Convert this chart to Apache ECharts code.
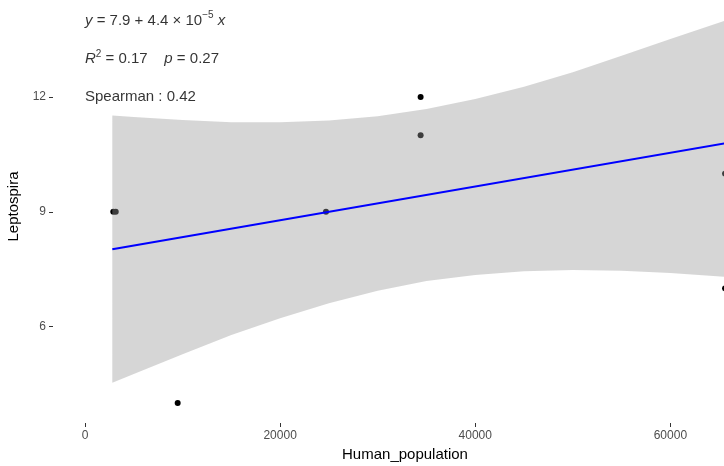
<!DOCTYPE html>
<html>
<head>
<meta charset="utf-8">
<script src="https://cdn.jsdelivr.net/npm/echarts@6/dist/echarts.min.js"></script>
<style>
  html, body { margin: 0; padding: 0; background: #fff; }
  #main { width: 724px; height: 466px; }
</style>
</head>
<body>
<div id="main"></div>
<script>
// axis ticks
var xTicks = [0, 20000, 40000, 60000];
var yTicks = [6, 9, 12];

// observations
var pointX = [2900, 3150, 9500, 24700, 34400, 34400, 65600, 65600];
var pointY = [9, 9, 4, 9, 12, 11, 10, 7];

// fitted line (y = 7.9 + 4.4e-5 x)
var fitX = [2800, 65600];
var fitY = [8.02, 10.79];

// confidence band
var bandX     = [2800, 5000, 10000, 15000, 20000, 25000, 30000, 35000, 40000, 45000, 50000, 55000, 60000, 65600];
var bandUpper = [11.52, 11.48, 11.40, 11.34, 11.34, 11.39, 11.50, 11.69, 11.95, 12.27, 12.65, 13.08, 13.52, 14.00];
var bandLower = [4.53, 4.76, 5.28, 5.78, 6.22, 6.61, 6.94, 7.19, 7.35, 7.45, 7.48, 7.46, 7.40, 7.30];

// annotations, placed at x = 0
var noteY = [14, 13, 12];
var noteText = [
  '{i|y} = 7.9 + 4.4 × 10{sup|−5} {i|x}',
  '{i|R}{sup|2} = 0.17    {i|p} = 0.27',
  'Spearman : 0.42'
];

var font = 'Liberation Sans, Arial, sans-serif';
var myChart = echarts.init(document.getElementById('main'));

function pairs(xs, ys) {
  var out = [];
  for (var i = 0; i < xs.length; i++) out.push([xs[i], ys[i]]);
  return out;
}

// ribbon drawn as one polygon: upper edge left->right, lower edge right->left
function renderBand(params, api) {
  var pts = [];
  for (var i = 0; i < bandX.length; i++) pts.push(api.coord([bandX[i], bandUpper[i]]));
  for (var j = bandX.length - 1; j >= 0; j--) pts.push(api.coord([bandX[j], bandLower[j]]));
  return {
    type: 'polygon',
    shape: { points: pts },
    style: { fill: 'rgba(153,153,153,0.4)', stroke: null }
  };
}

var option = {
  animation: false,
  backgroundColor: '#ffffff',
  grid: {
    left: 53,
    right: -33,
    top: -10,
    bottom: 43,
    outerBoundsMode: 'none'
  },
  xAxis: {
    type: 'value',
    min: -3280,
    max: 68880,
    name: 'Human_population',
    nameLocation: 'middle',
    nameGap: 22,
    nameTextStyle: { color: '#000', fontSize: 15, fontFamily: font },
    axisLine: { show: false, onZero: false },
    splitLine: { show: false },
    axisTick: { show: true, length: 4, lineStyle: { color: '#333', width: 1 }, customValues: xTicks },
    axisLabel: {
      color: '#4d4d4d', fontSize: 12, fontFamily: font, margin: 7, customValues: xTicks,
      formatter: function (v) { return String(v); }
    }
  },
  yAxis: {
    type: 'value',
    min: 3.48,
    max: 14.8,
    name: 'Leptospira',
    nameLocation: 'middle',
    nameGap: 24,
    nameRotate: 90,
    nameTextStyle: { color: '#000', fontSize: 15, fontFamily: font },
    axisLine: { show: false, onZero: false },
    splitLine: { show: false },
    axisTick: { show: true, length: 4, lineStyle: { color: '#333', width: 1 }, customValues: yTicks },
    axisLabel: { color: '#4d4d4d', fontSize: 12, fontFamily: font, margin: 7, customValues: yTicks }
  },
  series: [
    {
      name: 'points',
      type: 'scatter',
      z: 2,
      symbolSize: 6,
      itemStyle: { color: '#000', opacity: 1 },
      clip: false,
      data: pairs(pointX, pointY)
    },
    {
      name: 'band',
      type: 'custom',
      z: 3,
      silent: true,
      renderItem: renderBand,
      data: [[bandX[0], bandUpper[0]]]
    },
    {
      name: 'fit',
      type: 'line',
      z: 4,
      symbol: 'none',
      lineStyle: { color: '#0000ff', width: 2 },
      data: pairs(fitX, fitY)
    },
    {
      name: 'notes',
      type: 'scatter',
      z: 5,
      symbolSize: 0,
      silent: true,
      clip: false,
      data: noteY.map(function (v) { return [0, v]; }),
      label: {
        show: true,
        position: 'right',
        distance: 0,
        color: '#000',
        fontSize: 15,
        fontFamily: font,
        formatter: function (p) { return noteText[p.dataIndex]; },
        rich: {
          i: { fontStyle: 'italic', fontSize: 15, fontFamily: font, color: '#000' },
          sup: { fontSize: 10, fontFamily: font, color: '#000', padding: [0, 0, 10, 0] }
        }
      }
    }
  ]
};

myChart.setOption(option);
</script>
</body>
</html>
